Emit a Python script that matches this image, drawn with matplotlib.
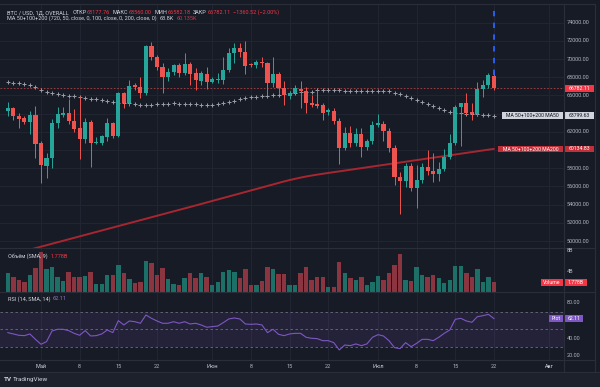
import matplotlib
matplotlib.use("Agg")
import matplotlib.pyplot as plt
from matplotlib.patches import Rectangle
from matplotlib.lines import Line2D
import numpy as np
import pandas as pd

plt.rcParams['font.family'] = ['Roboto', 'DejaVu Sans']

# ---------------- data ----------------
dates = pd.date_range('2024-04-25', '2024-07-22', freq='D')

opens = [64330, 64590, 63750, 63530, 63120, 63860, 60740, 58250, 59100, 62940,
         63890, 64110, 63200, 62390, 61180, 63120, 60820, 60820, 61480, 62940,
         61550, 66240, 65140, 67150, 66970, 66240, 71440, 70190, 69170, 68000,
         68620, 69350, 68510, 69460, 68440, 67600, 68360, 67520, 67700, 67700,
         68800, 70630, 71180, 70820, 69430, 69320, 69720, 69610, 67340, 68330,
         66790, 65950, 66240, 66720, 66500, 65210, 65070, 64960, 64150, 64330,
         63200, 60270, 61840, 60820, 61770, 60380, 61040, 62760, 62870, 62140,
         60190, 57080, 56640, 58250, 55800, 56710, 58110, 57740, 57340, 57920,
         59210, 60820, 64770, 65140, 64150, 63970, 66680, 67150, 68177.76]
highs = [65320, 64770, 64040, 63750, 64330, 64850, 61040, 59720, 63380, 64700,
         64770, 65580, 64480, 65950, 63490, 63310, 61480, 61660, 63490, 63120,
         66420, 66420, 67700, 67340, 68000, 71550, 71920, 70450, 69540, 69000,
         69500, 69600, 70710, 69720, 69000, 68700, 69100, 68000, 68500, 70270,
         71190, 71810, 71730, 72030, 69610, 69900, 70270, 69720, 70190, 68620,
         67630, 66530, 67150, 67590, 66970, 66060, 66600, 65210, 64590, 64590,
         63490, 62580, 62650, 62400, 62400, 61200, 63200, 63970, 63230, 62410,
         60560, 57630, 58550, 58550, 58360, 58620, 60010, 59650, 58730, 60080,
         61770, 64960, 65210, 66230, 65210, 67520, 67700, 68440, 68560.00]
lows = [63750, 63310, 62390, 62900, 61770, 59100, 56420, 56900, 58070, 62390,
        63600, 62900, 62000, 58990, 60800, 58110, 60670, 60600, 61000, 61300,
        61400, 64590, 64900, 66600, 65690, 66100, 69900, 68800, 66310, 67600,
        68300, 68000, 68200, 67150, 66600, 67100, 66680, 67350, 67330, 67300,
        68600, 69610, 70190, 68330, 69100, 69000, 69170, 66060, 66970, 66310,
        64960, 65600, 66160, 64590, 64040, 64700, 64590, 63310, 63860, 62900,
        58440, 60000, 60300, 60500, 59200, 60000, 60700, 62500, 61030, 59800,
        56160, 52980, 55980, 55500, 53600, 56350, 57260, 56530, 56640, 57700,
        59000, 60600, 60500, 63900, 63300, 63800, 65800, 66800, 66582.18]
closes = [64590, 63750, 63450, 63120, 63860, 60670, 58330, 59100, 62940, 63970,
          64110, 63200, 62360, 61180, 63120, 60820, 60930, 61550, 62940, 61550,
          66240, 65140, 67040, 66970, 66240, 71440, 70190, 69100, 68000, 68620,
          69350, 68510, 69460, 68360, 67700, 68440, 67520, 67780, 67850, 68800,
          70630, 71180, 70820, 69280, 69320, 69720, 69540, 67340, 68330, 66790,
          66060, 66310, 66790, 66500, 65210, 64960, 64850, 64110, 64410, 63200,
          60270, 61840, 60820, 61770, 60380, 61040, 62760, 63010, 62140, 60190,
          57080, 56640, 58250, 55800, 56710, 58110, 57740, 57340, 57920, 59210,
          60820, 64770, 65140, 64110, 63970, 66680, 67150, 68250, 66782.11]

ma50 = [67520, 67410, 67340, 67260, 67190, 66900, 66640, 66390, 66240, 66130,
        66060, 65980, 65910, 65840, 65760, 65650, 65580, 65510, 65360, 65290,
        65210, 65140, 65140, 65030, 64960, 64920, 64920, 65030, 65070, 65100,
        65140, 65100, 65100, 65070, 65040, 64960, 64950, 64960, 65030, 65140,
        65320, 65430, 65580, 65690, 65800, 65870, 65950, 65980, 66020, 66040,
        66170, 66240, 66310, 66330, 66390, 66420, 66570, 66600, 66610, 66640,
        66570, 66540, 66530, 66530, 66500, 66460, 66460, 66480, 66490, 66460,
        66310, 66130, 65950, 65690, 65470, 65250, 65030, 64810, 64590, 64370,
        64220, 64110, 64040, 64000, 63970, 63930, 63890, 63860, 63799.63]

ma200 = [48415, 48577, 48739, 48900, 49062, 49224, 49386, 49547, 49709, 49871,
         50032, 50194, 50356, 50517, 50679, 50841, 51003, 51164, 51326, 51488,
         51649, 51811, 51973, 52134, 52296, 52458, 52620, 52781, 52943, 53105,
         53266, 53428, 53590, 53751, 53913, 54078, 54243, 54408, 54573, 54738,
         54903, 55068, 55233, 55398, 55563, 55728, 55893, 56058, 56223, 56388,
         56553, 56703, 56845, 56977, 57097, 57205, 57304, 57397, 57487, 57576,
         57664, 57752, 57840, 57928, 58016, 58105, 58193, 58281, 58370, 58458,
         58546, 58635, 58723, 58811, 58899, 58988, 59076, 59164, 59253, 59341,
         59429, 59517, 59606, 59694, 59782, 59871, 59959, 60047, 60134.83]

volume_b = [3.53, 2.88, 2.16, 1.90, 3.20, 4.64, 7.71, 4.51, 4.84, 2.88,
            2.03, 3.73, 2.88, 2.75, 3.01, 3.79, 1.38, 1.38, 3.14, 3.14,
            5.29, 3.53, 2.49, 1.70, 1.90, 6.01, 5.56, 3.33, 4.64, 2.49,
            1.38, 1.24, 2.55, 3.66, 2.68, 3.66, 2.88, 1.24, 1.83, 3.79,
            4.12, 3.86, 2.61, 4.51, 1.18, 1.18, 2.03, 4.84, 4.51, 3.46,
            3.46, 1.24, 1.18, 3.53, 4.77, 2.16, 2.88, 2.88, 0.98, 0.98,
            5.75, 3.66, 2.68, 2.35, 2.88, 1.31, 1.83, 3.07, 2.35, 3.53,
            5.29, 7.39, 2.29, 2.03, 4.84, 3.14, 2.88, 3.14, 2.68, 1.70,
            2.35, 4.97, 5.03, 3.53, 2.75, 4.51, 1.90, 2.81, 1.778]

rsi = [46.2, 44.7, 43.2, 42.8, 44.7, 38.6, 33.0, 36.0, 48.1, 50.0,
       50.0, 48.5, 45.4, 43.2, 48.5, 42.4, 42.8, 44.7, 49.2, 46.2,
       59.8, 54.9, 59.4, 58.6, 56.8, 66.2, 62.4, 59.4, 56.8, 56.8,
       58.6, 56.8, 58.6, 56.0, 56.8, 54.9, 52.3, 53.0, 53.7, 57.5,
       61.7, 62.8, 61.7, 56.0, 55.6, 56.0, 54.9, 46.2, 50.0, 44.3,
       42.8, 44.7, 45.4, 45.4, 40.9, 39.8, 39.4, 37.1, 37.1, 34.9,
       26.6, 32.2, 31.5, 33.4, 31.5, 33.4, 40.9, 43.9, 42.4, 37.1,
       29.2, 28.1, 34.9, 30.3, 34.1, 38.6, 38.6, 37.1, 40.9, 45.4,
       49.2, 61.3, 62.4, 59.4, 57.9, 64.3, 65.4, 66.9, 62.11]

price_ticks = [50000, 52000, 54000, 56000, 58000, 60000, 62000, 64000,
               66000, 68000, 70000, 72000, 74000]
time_tick_dates = ['2024-05-01', '2024-05-08', '2024-05-15', '2024-05-22',
                   '2024-06-01', '2024-06-08', '2024-06-15', '2024-06-22',
                   '2024-07-01', '2024-07-08', '2024-07-15', '2024-07-22',
                   '2024-08-01']
time_tick_labels = ['Май', '8', '15', '22', 'Июн', '8', '15', '22',
                    'Июл', '8', '15', '22', 'Авг']

# ---------------- style ----------------
W, H = 600, 387
BG = '#171b26'
GRID = '#222633'
SEP = '#2a2e39'
TXT = '#b2b5be'
UP = '#26a69a'
DN = '#ef5350'
UPV = '#1d7067'
DNV = '#8a3540'
FS = 4.0

fig = plt.figure(figsize=(W / 100, H / 100), dpi=100, facecolor=BG)

def fx(px):
    return px / W

def fy(py):
    return 1 - py / H

def add_ax(l, t, r, b):
    ax = fig.add_axes([fx(l), fy(b), fx(r - l), (b - t) / H])
    ax.set_facecolor(BG)
    for s in ax.spines.values():
        s.set_visible(False)
    ax.set_xticks([])
    ax.set_yticks([])
    return ax

n = len(dates)
x = np.arange(n)
start = dates[0]
tick_x = [(pd.Timestamp(d) - start).days for d in time_tick_dates]

PL, PR = 0, 564
X0, X1 = -1.42, 100.68

MAIN_T, MAIN_B = 4, 248
VOL_T, VOL_B = 248, 291.5
RSI_T, RSI_B = 291.5, 360
P_TOP, P_BOT = 76055, 49240
V_TOP = 8.53
R_TOP, R_BOT = 92.8, 15.2

def py_price(p):
    return MAIN_T + (P_TOP - p) / (P_TOP - P_BOT) * (MAIN_B - MAIN_T)

def py_vol(v):
    return VOL_B - v / V_TOP * (VOL_B - VOL_T)

def py_rsi(r):
    return RSI_T + (R_TOP - r) / (R_TOP - R_BOT) * (RSI_B - RSI_T)

# ---------------- main pane ----------------
ax = add_ax(PL, MAIN_T, PR, MAIN_B)
ax.set_xlim(X0, X1)
ax.set_ylim(P_BOT, P_TOP)
for t in tick_x:
    ax.axvline(t, color=GRID, lw=0.7, zorder=0)
for p in price_ticks:
    ax.axhline(p, color=GRID, lw=0.7, zorder=0)

ax.plot(x, ma200, color='#a8262f', lw=1.4, zorder=2, solid_capstyle='round')
ax.plot(x, ma50, ls='none', marker='+', ms=2.6, mew=0.7, color='#9a9da6', zorder=2)

o = np.array(opens); c = np.array(closes)
h = np.array(highs); l = np.array(lows)
up = c >= o
cols = np.where(up, UP, DN)
ax.vlines(x, l, h, colors=cols, lw=0.7, zorder=3)
body_lo = np.minimum(o, c)
body_h = np.maximum(np.abs(c - o), 70)
ax.bar(x, body_h, bottom=body_lo, width=0.74, color=cols, zorder=4, linewidth=0)

last = closes[-1]
ax.axhline(last, color=DN, lw=0.6, ls=(0, (2, 2)), alpha=0.7, zorder=1)
ax.plot([x[-1], x[-1]], [highs[-1] - 300, P_TOP], color='#2962ff', lw=1.3,
        ls=(0, (3, 3.5)), zorder=5)

# ---------------- volume pane ----------------
axv = add_ax(PL, VOL_T, PR, VOL_B)
axv.set_xlim(X0, X1)
axv.set_ylim(0, V_TOP)
for t in tick_x:
    axv.axvline(t, color=GRID, lw=0.7, zorder=0)
vcols = np.where(up, UPV, DNV)
axv.bar(x, volume_b, width=0.8, color=vcols, linewidth=0, zorder=2)

# ---------------- RSI pane ----------------
axr = add_ax(PL, RSI_T, PR, RSI_B)
axr.set_xlim(X0, X1)
axr.set_ylim(R_BOT, R_TOP)
for t in tick_x:
    axr.axvline(t, color=GRID, lw=0.7, zorder=0)
axr.axhspan(30, 70, color='#7e57c2', alpha=0.12, lw=0, zorder=1)
for lv in (70, 50, 30):
    axr.axhline(lv, color='#6a6d78', lw=0.6, ls=(0, (3, 3)), zorder=2)
axr.plot(x, rsi, color='#7e57c2', lw=0.8, zorder=3)

# ---------------- separators & frame ----------------
def hline(y, x0=0, x1=W, col=SEP, lw=0.8):
    fig.add_artist(Line2D([fx(x0), fx(x1)], [fy(y), fy(y)], color=col, lw=lw,
                          transform=fig.transFigure))

def vline(xp, y0=0, y1=H, col=SEP, lw=0.8):
    fig.add_artist(Line2D([fx(xp), fx(xp)], [fy(y0), fy(y1)], color=col, lw=lw,
                          transform=fig.transFigure))

hline(4, 0, 595)
hline(VOL_T, 0, 595)
hline(VOL_B, 0, 595)
hline(RSI_B, 0, 595)
vline(PR, 4, 372)
vline(595, 4, 372)

# bottom strip
fig.add_artist(Rectangle((0, 0), 1, 15 / H, transform=fig.transFigure,
                         facecolor='#1d212c', edgecolor='none'))
hline(372, 0, W, col='#2a2e39')
fig.text(fx(4), fy(379.5), 'TV', fontsize=4.6, fontweight='bold', color='#d1d4dc',
         ha='left', va='center')
fig.text(fx(13), fy(379.5), 'TradingView', fontsize=4.6, color='#d1d4dc',
         ha='left', va='center')

# ---------------- axis labels (those hidden behind tags are skipped) ----------------
hidden_prices = (60000, 64000)
for p in price_ticks:
    if p in hidden_prices:
        continue
    fig.text(fx(567), fy(py_price(p)), f'{p:.2f}', fontsize=FS, color=TXT,
             ha='left', va='center')
fig.text(fx(567), fy(py_vol(8)), '8B', fontsize=FS, color=TXT, ha='left', va='center')
fig.text(fx(567), fy(py_vol(4)), '4B', fontsize=FS, color=TXT, ha='left', va='center')
for r in (80, 40, 20):
    fig.text(fx(567), fy(py_rsi(r)), f'{r:.2f}', fontsize=FS, color=TXT,
             ha='left', va='center')

x_scale = (PR - PL) / (X1 - X0)
for t, lab in zip(tick_x, time_tick_labels):
    xp = PL + (t - X0) * x_scale
    col = '#d1d4dc' if not lab.isdigit() else TXT
    fig.text(fx(xp), fy(366), lab, fontsize=FS, color=col, ha='center', va='center')

# ---------------- tags ----------------
def tag(x0, x1, yc, text, fc, tc, hh=6.6):
    fig.add_artist(Rectangle((fx(x0), fy(yc + hh / 2)), (x1 - x0) / W, hh / H,
                             transform=fig.transFigure, facecolor=fc, edgecolor='none'))
    fig.text(fx((x0 + x1) / 2), fy(yc), text, fontsize=FS - 0.3, color=tc,
             ha='center', va='center')

yl = py_price(last)
tag(565, 594, yl, f'{last:.2f}', '#f23645', 'white')
y50 = py_price(ma50[-1])
tag(501.5, 563, y50, 'MA 50+100+200 MA50', '#d1d4dc', '#131722')
tag(565, 594, y50, f'{ma50[-1]:.2f}', '#d1d4dc', '#131722')
y200 = py_price(ma200[-1])
tag(498, 563, y200, 'MA 50+100+200 MA200', '#c0303b', 'white')
tag(565, 594, y200, f'{ma200[-1]:.2f}', '#c0303b', 'white')
yv = py_vol(volume_b[-1])
tag(541, 563, yv, 'Volume', '#f23645', 'white')
tag(565, 587, yv, '1.778B', '#f23645', 'white')
yr = py_rsi(rsi[-1])
tag(549, 563, yr, 'Plot', '#7e57c2', 'white')
tag(565, 583, yr, f'{rsi[-1]:.2f}', '#7e57c2', 'white')

# ---------------- header (sequential layout) ----------------
HL = '#d1d4dc'
RED = '#f23645'
HFS = 3.95
renderer = fig.canvas.get_renderer()

def run(xp, yp, pieces):
    for s, col, gap in pieces:
        t = fig.text(fx(xp), fy(yp), s, fontsize=HFS, color=col, ha='left', va='center')
        bb = t.get_window_extent(renderer=renderer)
        xp = bb.x1 + gap

run(7.3, 12.3, [('BTC / USD, 1Д, OVERALL', HL, 3.5),
                ('ОТКР', HL, 0.4), (f'{opens[-1]:.2f}', RED, 2.5),
                ('МАКС', HL, 0.4), (f'{highs[-1]:.2f}', RED, 2.5),
                ('МИН', HL, 0.4), (f'{lows[-1]:.2f}', RED, 2.5),
                ('ЗАКР', HL, 0.4), (f'{closes[-1]:.2f}', RED, 2.5),
                ('−1360.52 (−2.00%)', RED, 0)])
run(7.3, 18.6, [('MA 50+100+200 (720, 50, close, 0, 100, close, 0, 200, close, 0)', HL, 2.5),
                ('63.8K', HL, 2.5), ('60.135K', '#d23a45', 0)])
run(8, 256, [('Объём (SMA, 9)', HL, 2.5), ('1.778B', RED, 0)])
run(8, 299, [('RSI (14, SMA, 14)', HL, 2.5), ('62.11', '#9575cd', 0)])

fig.savefig('out.png', dpi=100, facecolor=BG)
